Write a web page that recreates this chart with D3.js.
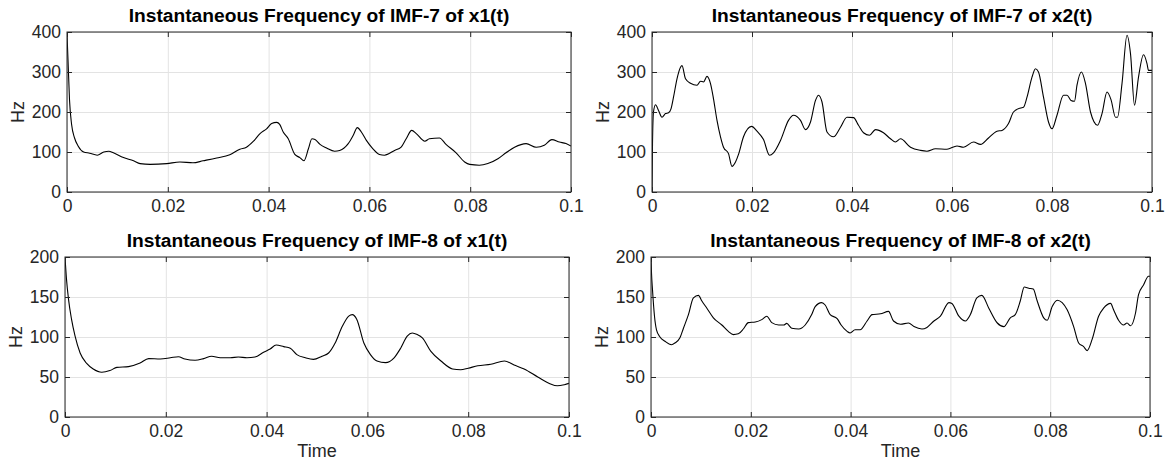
<!DOCTYPE html>
<html>
<head>
<meta charset="utf-8">
<script src="https://cdn.jsdelivr.net/npm/d3@7"></script>
<style>
  html, body { margin: 0; padding: 0; background: #fff; }
  svg { display: block; font-family: "Liberation Sans", Arial, Helvetica, sans-serif; }
</style>
</head>
<body>
<svg id="chart" width="1170" height="462"></svg>
<script>
// ---- data: [time (s), instantaneous frequency (Hz)] ----
const imf7x1 = [
  [0,395],[0.0002,330],[0.0005,230],[0.0009,170],[0.0015,135],[0.0022,115],[0.0033,100],[0.0045,97],
  [0.006,92],[0.0073,100],[0.0083,102],[0.0092,98],[0.0112,86],[0.0132,78],[0.0145,71],[0.0165,69],
  [0.0198,71],[0.0224,75],[0.025,73],[0.027,78],[0.0297,85],[0.0323,93],[0.0343,107],[0.0356,112],
  [0.037,127],[0.0383,146],[0.0396,158],[0.0406,171],[0.0416,174],[0.0422,169],[0.0429,150],[0.0439,133],
  [0.0452,94],[0.0462,86],[0.047,78],[0.0479,108],[0.0486,133],[0.0492,131],[0.0502,119],[0.0515,110],
  [0.0531,102],[0.0541,104],[0.0558,121],[0.0568,142],[0.0576,161],[0.0584,150],[0.0594,129],[0.0607,108],
  [0.062,94],[0.063,92],[0.065,104],[0.0663,112],[0.0673,133],[0.0684,154],[0.0693,146],[0.071,127],
  [0.0719,133],[0.0739,135],[0.0752,119],[0.0772,98],[0.0789,75],[0.0799,69],[0.0818,67],[0.0835,71],
  [0.0855,83],[0.0871,98],[0.0888,112],[0.0911,121],[0.0931,112],[0.0947,117],[0.0962,131],[0.0977,125],
  [0.099,121],[0.1,115]
];

const imf7x2 = [
  [0,0],[0.0001,120],[0.0003,200],[0.0007,218],[0.0013,204],[0.002,187],[0.0027,196],[0.0033,198],
  [0.0038,208],[0.0043,237],[0.005,283],[0.0057,312],[0.006,316],[0.0067,283],[0.0077,272],[0.009,267],
  [0.0097,277],[0.0103,275],[0.011,289],[0.0117,271],[0.0123,233],[0.013,179],[0.0137,138],[0.0143,112],
  [0.0153,96],[0.016,64],[0.0167,75],[0.0173,94],[0.0183,138],[0.0199,164],[0.021,152],[0.0223,131],
  [0.0235,92],[0.0243,98],[0.0257,129],[0.0273,179],[0.0283,192],[0.0297,179],[0.0307,156],[0.0317,175],
  [0.0327,229],[0.0333,242],[0.034,225],[0.035,150],[0.0363,138],[0.0377,162],[0.039,187],[0.0403,186],
  [0.0413,167],[0.0423,148],[0.0435,142],[0.0447,156],[0.0463,148],[0.0477,133],[0.0487,125],[0.0497,133],
  [0.0517,112],[0.0537,104],[0.055,102],[0.0567,108],[0.059,107],[0.061,115],[0.0623,112],[0.0643,125],
  [0.0657,119],[0.0673,135],[0.069,152],[0.07,154],[0.0713,171],[0.0723,200],[0.0737,210],[0.0743,212],
  [0.075,237],[0.076,287],[0.0767,308],[0.0773,300],[0.0783,237],[0.0793,175],[0.08,158],[0.081,192],
  [0.0823,242],[0.083,242],[0.0838,229],[0.0845,227],[0.085,267],[0.0859,300],[0.0867,271],[0.0877,200],
  [0.0891,167],[0.09,196],[0.091,250],[0.0918,231],[0.0927,187],[0.0931,187],[0.094,271],[0.095,392],
  [0.0957,346],[0.0965,217],[0.0973,287],[0.0983,343],[0.099,321],[0.0993,304],[0.1,304]
];

const imf8x1 = [
  [0,200],[0.0003,172],[0.0007,147],[0.0013,122],[0.002,101],[0.003,80],[0.0043,67],[0.0056,60],
  [0.0073,56],[0.0089,58],[0.0103,62],[0.0126,63],[0.0149,67.5],[0.0166,73],[0.0189,72.5],[0.0209,74],
  [0.0225,75.4],[0.0238,72.5],[0.0258,71],[0.0275,73],[0.0291,76],[0.0308,74],[0.0328,74],[0.0344,75],
  [0.0361,74],[0.0377,75],[0.0394,81],[0.0407,85],[0.0419,90],[0.0434,88],[0.0447,86],[0.046,78],
  [0.0477,74],[0.0493,72],[0.051,76],[0.0523,80],[0.0536,92.5],[0.055,113],[0.0563,126],[0.057,128],
  [0.0579,122],[0.0593,92.5],[0.0606,78],[0.0619,70],[0.0636,68],[0.0653,74],[0.0666,86],[0.0679,101],
  [0.0689,105],[0.0699,103],[0.0709,99],[0.0726,82],[0.0746,70],[0.0769,60],[0.0785,59],[0.08,61],
  [0.0819,64],[0.0845,66],[0.0872,70],[0.0891,65],[0.0911,60],[0.0938,50],[0.0961,42],[0.0977,39],
  [0.0991,40.4],[0.1,42]
];

const imf8x2 = [
  [0,200],[0.0001,180],[0.0003,159],[0.0007,126],[0.0011,109],[0.0018,100],[0.0028,94.6],[0.0041,90.4],
  [0.0048,92.5],[0.0058,99],[0.0065,111],[0.0075,128],[0.0085,149],[0.0095,152],[0.0102,145],[0.0112,136],
  [0.0125,124],[0.0142,115],[0.0155,107],[0.0165,103],[0.0175,104],[0.0185,110],[0.0195,118],[0.0209,118.75],
  [0.0222,121.7],[0.0232,126],[0.0242,118],[0.0256,115],[0.0266,115],[0.0272,117],[0.0282,111],[0.0296,110],
  [0.0309,115],[0.0322,128],[0.0329,138],[0.0342,143],[0.0349,140],[0.0359,128],[0.0373,123],[0.0381,115],
  [0.0393,107],[0.0399,105],[0.0409,109],[0.0419,109],[0.0433,120],[0.0443,128],[0.046,129],[0.0476,132],
  [0.0486,120],[0.05,116],[0.0516,117.5],[0.0527,113],[0.0543,110],[0.0553,112],[0.0567,120],[0.058,126],
  [0.0597,143],[0.0603,142],[0.0617,126],[0.063,120],[0.064,128],[0.0653,149],[0.0663,152],[0.0677,136],
  [0.0694,117.5],[0.0707,113],[0.072,124],[0.073,128],[0.074,145],[0.0748,162.5],[0.0757,161],[0.0766,160],
  [0.0774,145],[0.0787,124],[0.0794,121],[0.0804,138],[0.0814,146],[0.0824,143],[0.0834,134],[0.0847,113],
  [0.0857,92.5],[0.0867,88],[0.0874,83],[0.0884,97],[0.0897,126],[0.0907,136],[0.0921,142],[0.0927,134],
  [0.0937,121],[0.0947,115],[0.0954,117.5],[0.0961,114],[0.0971,130],[0.0977,153],[0.0987,165],[0.0997,176],
  [0.1,176]
];

// ---- tick values and labels ----
const xTicks = [0, 0.02, 0.04, 0.06, 0.08, 0.1];
const xTickLabels = ["0", "0.02", "0.04", "0.06", "0.08", "0.1"];
const yTicksImf7 = [0, 100, 200, 300, 400];
const yTicksImf8 = [0, 50, 100, 150, 200];

const titles = [
  "Instantaneous Frequency of IMF-7 of x1(t)",
  "Instantaneous Frequency of IMF-7 of x2(t)",
  "Instantaneous Frequency of IMF-8 of x1(t)",
  "Instantaneous Frequency of IMF-8 of x2(t)"
];

// ---- layout of the 2x2 grid of axes ----
const panels = [
  { data: imf7x1, title: titles[0], yTicks: yTicksImf7, yMax: 400, box: { l: 67,  r: 571,  t: 32,  b: 192 }, xlabel: false },
  { data: imf7x2, title: titles[1], yTicks: yTicksImf7, yMax: 400, box: { l: 652, r: 1152, t: 32,  b: 192 }, xlabel: false },
  { data: imf8x1, title: titles[2], yTicks: yTicksImf8, yMax: 200, box: { l: 65,  r: 569,  t: 257, b: 417 }, xlabel: true },
  { data: imf8x2, title: titles[3], yTicks: yTicksImf8, yMax: 200, box: { l: 651, r: 1150, t: 257, b: 417 }, xlabel: true }
];

const AXIS = "#262626";
const GRID = "#e3e3e3";
const TICK_FONT = 17.5;
const LABEL_FONT = 18;
const TITLE_FONT = 19.2;
const TICK_LEN = 5;

const svg = d3.select("#chart");
svg.append("rect").attr("width", 1170).attr("height", 462).attr("fill", "#fff");

panels.forEach((p, idx) => {
  const { l, r, t, b } = p.box;
  const w = r - l, h = b - t;
  const x = d3.scaleLinear().domain([0, 0.1]).range([0, w]);
  const y = d3.scaleLinear().domain([0, p.yMax]).range([h, 0]);

  const g = svg.append("g").attr("transform", `translate(${l},${t})`);

  // grid
  const gx = g.append("g").attr("transform", `translate(0,${h})`)
    .call(d3.axisBottom(x).tickValues(xTicks).tickSize(-h).tickFormat(""));
  const gy = g.append("g")
    .call(d3.axisLeft(y).tickValues(p.yTicks).tickSize(-w).tickFormat(""));
  [gx, gy].forEach(a => {
    a.select(".domain").remove();
    a.selectAll("line").attr("stroke", GRID).attr("stroke-width", 1);
  });

  // curve
  const clipId = "clip" + idx;
  g.append("clipPath").attr("id", clipId)
    .append("rect").attr("x", 0).attr("y", -1).attr("width", w).attr("height", h + 2);
  g.append("path")
    .datum(p.data)
    .attr("clip-path", `url(#${clipId})`)
    .attr("fill", "none")
    .attr("stroke", "#000")
    .attr("stroke-width", 1.1)
    .attr("stroke-linejoin", "round")
    .attr("d", d3.line().x(d => x(d[0])).y(d => y(d[1])).curve(d3.curveMonotoneX));

  // axes with inward ticks on all four sides
  const bottom = g.append("g").attr("transform", `translate(0,${h})`)
    .call(d3.axisBottom(x).tickValues(xTicks).tickSize(-TICK_LEN).tickPadding(7.6)
      .tickFormat((d, i) => xTickLabels[i]));
  const top = g.append("g")
    .call(d3.axisTop(x).tickValues(xTicks).tickSize(-TICK_LEN).tickFormat(""));
  const left = g.append("g")
    .call(d3.axisLeft(y).tickValues(p.yTicks).tickSize(-TICK_LEN).tickPadding(6));
  const right = g.append("g").attr("transform", `translate(${w},0)`)
    .call(d3.axisRight(y).tickValues(p.yTicks).tickSize(-TICK_LEN).tickFormat(""));
  [bottom, top, left, right].forEach(a => {
    a.select(".domain").remove();
    a.selectAll("line").attr("stroke", AXIS).attr("stroke-width", 1);
    a.selectAll("text").attr("fill", AXIS).attr("font-size", TICK_FONT)
      .attr("font-family", "'Liberation Sans', Arial, Helvetica, sans-serif");
  });

  // box
  g.append("rect").attr("x", 0).attr("y", 0).attr("width", w).attr("height", h)
    .attr("fill", "none").attr("stroke", AXIS).attr("stroke-width", 1);

  // title
  g.append("text")
    .attr("x", w / 2).attr("y", -10)
    .attr("text-anchor", "middle")
    .attr("font-weight", "bold")
    .attr("font-size", TITLE_FONT)
    .attr("fill", "#000")
    .text(p.title);

  // y label
  g.append("text")
    .attr("transform", `translate(-43,${h / 2}) rotate(-90)`)
    .attr("text-anchor", "middle")
    .attr("font-size", LABEL_FONT)
    .attr("fill", AXIS)
    .text("Hz");

  // x label
  if (p.xlabel) {
    g.append("text")
      .attr("x", w / 2).attr("y", h + 40)
      .attr("text-anchor", "middle")
      .attr("font-size", LABEL_FONT)
      .attr("fill", AXIS)
      .text("Time");
  }
});
</script>
</body>
</html>
